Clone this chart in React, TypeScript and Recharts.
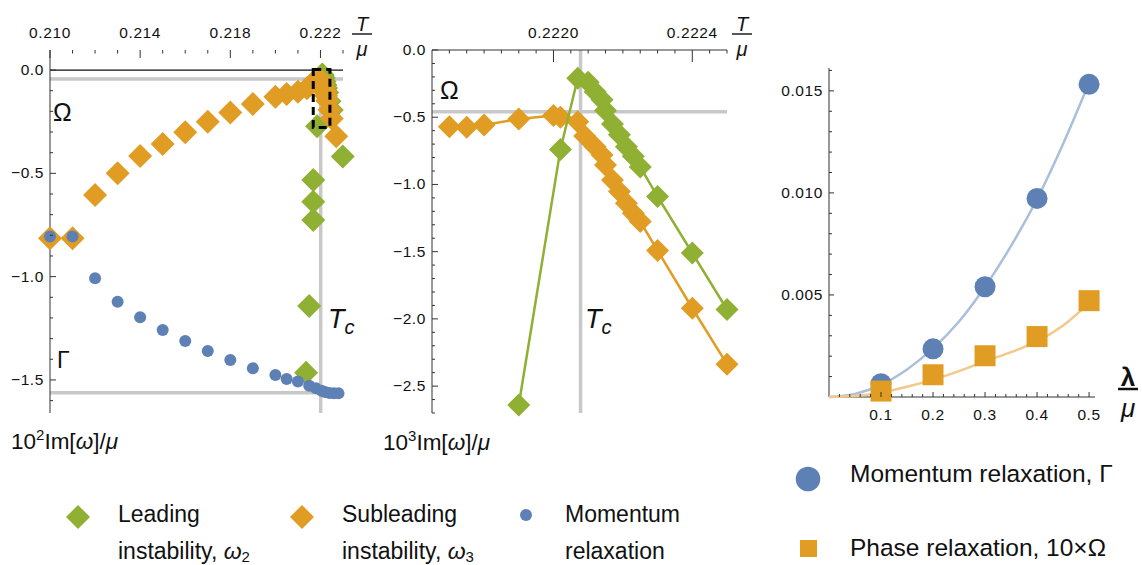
import React from "react";
import {
  ComposedChart,
  Scatter,
  XAxis,
  YAxis,
  ReferenceLine,
  ReferenceArea,
} from "recharts";

const GREEN = "#8fb032";
const ORANGE = "#e19c24";
const BLUE = "#5e81b5";
const BLUE_FIT = "#aabfdc";
const ORANGE_FIT = "#f2c98a";
const GRAY = "#c8c8c8";
const AXIS = "#333";
const FONT = "'Liberation Sans', Arial, Helvetica, sans-serif";

// left panel: T/mu vs 10^2 Im[w]/mu
const p1LeadT = [0.22136, 0.2215, 0.22168, 0.22168, 0.22168, 0.22185, 0.22202, 0.22208, 0.2221, 0.22214, 0.22218, 0.22222, 0.22225, 0.2223, 0.2224, 0.2225, 0.22299];
const p1LeadIm = [-1.465, -1.142, -0.726, -0.637, -0.532, -0.272, -0.074, -0.021, -0.025, -0.037, -0.055, -0.072, -0.087, -0.109, -0.151, -0.193, -0.419];
const p1SubT = [0.21, 0.211, 0.212, 0.213, 0.214, 0.215, 0.216, 0.217, 0.218, 0.219, 0.22, 0.2205, 0.221, 0.2214, 0.2217, 0.2218, 0.2219, 0.222, 0.22205, 0.2221, 0.22215, 0.2222, 0.22225, 0.2223, 0.2224, 0.2225, 0.2227];
const p1SubIm = [-0.814, -0.814, -0.605, -0.5, -0.416, -0.358, -0.301, -0.25, -0.205, -0.164, -0.129, -0.116, -0.105, -0.088, -0.057, -0.056, -0.051, -0.049, -0.052, -0.07, -0.085, -0.105, -0.125, -0.149, -0.192, -0.234, -0.32];
const p1MomT = [0.21, 0.211, 0.212, 0.213, 0.214, 0.215, 0.216, 0.217, 0.218, 0.219, 0.22, 0.2205, 0.221, 0.2215, 0.2218, 0.22205, 0.2222, 0.2224, 0.2226, 0.2228];
const p1MomIm = [-0.806, -0.806, -1.008, -1.121, -1.197, -1.258, -1.311, -1.36, -1.403, -1.443, -1.476, -1.495, -1.508, -1.528, -1.54, -1.552, -1.558, -1.563, -1.565, -1.565];

// middle panel: zoom near Tc, 10^3 Im[w]/mu
const p2LeadT = [0.2219, 0.22202, 0.22207, 0.2221, 0.22212, 0.22214, 0.22215, 0.22217, 0.22219, 0.22221, 0.22223, 0.22225, 0.2223, 0.2224, 0.2225];
const p2LeadIm = [-2.64, -0.74, -0.21, -0.24, -0.31, -0.37, -0.45, -0.55, -0.63, -0.72, -0.79, -0.87, -1.09, -1.51, -1.93];
const p2SubT = [0.2217, 0.22175, 0.2218, 0.2219, 0.222, 0.22202, 0.22207, 0.22209, 0.22212, 0.22214, 0.22215, 0.22217, 0.22219, 0.22221, 0.22223, 0.22225, 0.2223, 0.2224, 0.2225];
const p2SubIm = [-0.57, -0.575, -0.558, -0.513, -0.488, -0.501, -0.533, -0.639, -0.719, -0.781, -0.855, -0.967, -1.053, -1.14, -1.214, -1.276, -1.492, -1.921, -2.337];

// right panel: rates vs lambda/mu
const lambdas = [0.1, 0.2, 0.3, 0.4, 0.5];
const gammaVals = [0.00065, 0.00236, 0.0054, 0.00973, 0.01532];
const omegaVals = [0.00029, 0.00109, 0.00202, 0.00296, 0.00472];
const fitLambda = [0, 0.05, 0.1, 0.15, 0.2, 0.25, 0.3, 0.35, 0.4, 0.45, 0.5];
const gammaFit = [0, 0.00015, 0.0006, 0.00135, 0.00238, 0.0037, 0.0054, 0.0074, 0.0097, 0.0124, 0.0154];
const omegaFit = [0, 0.00005, 0.00022, 0.0005, 0.00085, 0.00127, 0.00175, 0.0022, 0.00272, 0.0035, 0.0046];

// tick labels
const p1XMajor = [0.21, 0.214, 0.218, 0.222];
const p1YMajor = [0, -0.5, -1, -1.5];
const p2XMajor = [0.222, 0.2224];
const p2YMajor = [0, -0.5, -1, -1.5, -2, -2.5];
const p3XMajor = [0.1, 0.2, 0.3, 0.4, 0.5];
const p3YMajor = [0.005, 0.01, 0.015];

const steps = (from: number, count: number, step: number) =>
  Array.from({ length: count }, (_, i) => +(from + i * step).toFixed(6));

const p1XTicks = steps(0.21, 14, 0.001);
const p1YTicks = steps(-1.6, 17, 0.1);
const p2XTicks = steps(0.2217, 17, 0.00005);
const p2YTicks = steps(-2.7, 28, 0.1);
const p3XTicks = steps(0.02, 25, 0.02);
const p3YTicks = steps(0.001, 16, 0.001);

const pts = (xs: number[], ys: number[]) => xs.map((x, i) => ({ x, y: ys[i] }));

const isIn = (v: number, list: number[]) => list.some((m) => Math.abs(m - v) < 1e-9);
const fmt = (v: number, d: number) => v.toFixed(d).replace("-", "\u2212");

const tickText = { fontSize: 15.5, fontFamily: FONT, fill: "#111", letterSpacing: 0.6 };

const leftTick = (axisX: number, majors: number[], digits: number, big = 6, small = 3) => (props: any) => {
  const v = props.payload.value;
  const y = props.y;
  const major = isIn(v, majors);
  return (
    <g>
      <line x1={axisX} x2={axisX + (major ? big : small)} y1={y} y2={y} stroke={AXIS} strokeWidth={1} />
      {major && (
        <text x={axisX - 6} y={y + 5} textAnchor="end" {...tickText}>
          {fmt(v, digits)}
        </text>
      )}
    </g>
  );
};

const topTick = (axisY: number, majors: number[], digits: number, big = 8, small = 3.5) => (props: any) => {
  const v = props.payload.value;
  const x = props.x;
  const major = isIn(v, majors);
  return (
    <g>
      <line x1={x} x2={x} y1={axisY} y2={axisY + (major ? big : small)} stroke={AXIS} strokeWidth={1} />
      {major && (
        <text x={x} y={axisY - 12} textAnchor="middle" {...tickText}>
          {fmt(v, digits)}
        </text>
      )}
    </g>
  );
};

const bottomTick = (axisY: number, majors: number[], digits: number, big = 5, small = 3) => (props: any) => {
  const v = props.payload.value;
  const x = props.x;
  const major = isIn(v, majors);
  return (
    <g>
      <line x1={x} x2={x} y1={axisY} y2={axisY - (major ? big : small)} stroke={AXIS} strokeWidth={1} />
      {major && (
        <text x={x} y={axisY + 23} textAnchor="middle" {...tickText}>
          {fmt(v, digits)}
        </text>
      )}
    </g>
  );
};

const diamond = (color: string, h: number) => (p: any) => (
  <polygon
    points={`${p.cx},${p.cy - h} ${p.cx + h},${p.cy} ${p.cx},${p.cy + h} ${p.cx - h},${p.cy}`}
    fill={color}
  />
);
const dot = (color: string, r: number) => (p: any) => <circle cx={p.cx} cy={p.cy} r={r} fill={color} />;
const square = (color: string, s: number) => (p: any) => (
  <rect x={p.cx - s / 2} y={p.cy - s / 2} width={s} height={s} fill={color} />
);
const nothing = () => <g />;

function Fraction({ x, top, bottom, y, size = 20, bold = false }: any) {
  return (
    <g fontFamily={FONT} fontSize={size} textAnchor="middle" fill="#111">
      <text x={x} y={y} fontStyle={bold ? "normal" : "italic"} fontWeight={bold ? "bold" : "normal"}>{top}</text>
      <line x1={x - 10} x2={x + 10} y1={y + 3} y2={y + 3} stroke="#111" strokeWidth={bold ? 2.5 : 1.4} />
      <text x={x} y={y + 25 + (bold ? 6 : 0)} fontStyle="italic">{bottom}</text>
    </g>
  );
}

function Tc({ x, y }: { x: number; y: number }) {
  return (
    <text x={x} y={y} fontFamily={FONT} fontSize={27} fontStyle="italic" fill="#111">
      T<tspan dy={6} fontSize={20}>c</tspan>
    </text>
  );
}

function ImLabel({ x, y, power }: { x: number; y: number; power: string }) {
  return (
    <text x={x} y={y} fontFamily={FONT} fontSize={22.5} fill="#111">
      10<tspan dy={-9} fontSize={15}>{power}</tspan>
      <tspan dy={9}>Im[</tspan>
      <tspan fontStyle="italic">ω</tspan>
      <tspan>]/</tspan>
      <tspan fontStyle="italic">μ</tspan>
    </text>
  );
}

function LegendEntry({ x, symbol, line1, line2, sub }: any) {
  return (
    <g fontFamily={FONT} fontSize={23} fill="#111">
      {symbol}
      <text x={x} y={522}>{line1}</text>
      <text x={x} y={559}>
        {line2}
        {sub && (
          <>
            <tspan fontStyle="italic">ω</tspan>
            <tspan dy={3} fontSize={15}>{sub}</tspan>
          </>
        )}
      </text>
    </g>
  );
}

export default function App() {
  return (
    <div style={{ position: "absolute", left: 0, top: 0, width: 1142, height: 565, background: "#fff", overflow: "hidden" }}>
      {/* left panel */}
      <div style={{ position: "absolute", left: 0, top: 0 }}>
        <ComposedChart width={380} height={420} margin={{ top: 0, right: 37, bottom: 7, left: 0 }}>
          <XAxis type="number" dataKey="x" orientation="top" height={50} domain={[0.21, 0.223]}
            ticks={p1XTicks} interval={0} tick={topTick(50, p1XMajor, 3)} tickLine={false} axisLine={false} />
          <YAxis type="number" dataKey="y" width={50} domain={[-1.66, 0.097]}
            ticks={p1YTicks} interval={0} tick={leftTick(50, p1YMajor, 1)} tickLine={false} axisLine={{ stroke: AXIS }} />
          <ReferenceLine y={0} stroke="#111" strokeWidth={1.2} />
          <ReferenceLine segment={[{ x: 0.21, y: -0.0436 }, { x: 0.223, y: -0.0436 }]} stroke={GRAY} strokeWidth={3.5} />
          <ReferenceLine segment={[{ x: 0.21, y: -1.562 }, { x: 0.22201, y: -1.562 }]} stroke={GRAY} strokeWidth={3.5} />
          <ReferenceLine segment={[{ x: 0.22201, y: 0.012 }, { x: 0.22201, y: -1.66 }]} stroke={GRAY} strokeWidth={3.5} />
          <Scatter data={pts(p1LeadT, p1LeadIm)} shape={diamond(GREEN, 12)} isAnimationActive={false} />
          <Scatter data={pts(p1SubT, p1SubIm)} shape={diamond(ORANGE, 12)} isAnimationActive={false} />
          <Scatter data={pts(p1MomT, p1MomIm)} shape={dot(BLUE, 6)} isAnimationActive={false} />
          <ReferenceArea x1={0.22168} x2={0.22242} y1={-0.278} y2={0.003} fill="none" fillOpacity={0}
            stroke="#000" strokeWidth={3} strokeDasharray="8 5" zIndex={1500} />
        </ComposedChart>
      </div>

      {/* middle panel */}
      <div style={{ position: "absolute", left: 380, top: 0 }}>
        <ComposedChart width={380} height={420} margin={{ top: 0, right: 33, bottom: 7, left: 0 }}>
          <XAxis type="number" dataKey="x" orientation="top" height={50} domain={[0.22165, 0.2225]}
            ticks={p2XTicks} interval={0} tick={topTick(50, p2XMajor, 4, 12, 3.5)} tickLine={false} axisLine={{ stroke: AXIS }} />
          <YAxis type="number" dataKey="y" width={52} domain={[-2.7, 0]}
            ticks={p2YTicks} interval={0} tick={leftTick(52, p2YMajor, 1)} tickLine={false} axisLine={{ stroke: AXIS }} />
          <ReferenceLine segment={[{ x: 0.22165, y: -0.46 }, { x: 0.2225, y: -0.46 }]} stroke={GRAY} strokeWidth={3.5} />
          <ReferenceLine segment={[{ x: 0.222078, y: 0 }, { x: 0.222078, y: -2.7 }]} stroke={GRAY} strokeWidth={3.5} />
          <Scatter data={pts(p2SubT, p2SubIm)} shape={diamond(ORANGE, 11.5)} line={{ stroke: ORANGE, strokeWidth: 2.5 }} isAnimationActive={false} />
          <Scatter data={pts(p2LeadT, p2LeadIm)} shape={diamond(GREEN, 11.5)} line={{ stroke: GREEN, strokeWidth: 2.5 }} isAnimationActive={false} />
        </ComposedChart>
      </div>

      {/* right panel */}
      <div style={{ position: "absolute", left: 760, top: 0 }}>
        <ComposedChart width={382} height={440} margin={{ top: 68, right: 47, bottom: 0, left: 0 }}>
          <XAxis type="number" dataKey="x" height={43} domain={[0, 0.5114]}
            ticks={p3XTicks} interval={0} tick={bottomTick(397, p3XMajor, 1)} tickLine={false} axisLine={{ stroke: AXIS }} />
          <YAxis type="number" dataKey="y" width={69} domain={[0, 0.01612]}
            ticks={p3YTicks} interval={0} tick={leftTick(69, p3YMajor, 3, 5, 3)} tickLine={false} axisLine={{ stroke: AXIS }} />
          <Scatter data={pts(fitLambda, gammaFit)} shape={nothing} line={{ stroke: BLUE_FIT, strokeWidth: 2.5 }} lineJointType="monotoneX" isAnimationActive={false} />
          <Scatter data={pts(fitLambda, omegaFit)} shape={nothing} line={{ stroke: ORANGE_FIT, strokeWidth: 2.5 }} lineJointType="monotoneX" isAnimationActive={false} />
          <Scatter data={pts(lambdas, gammaVals)} shape={dot(BLUE, 10.5)} isAnimationActive={false} />
          <Scatter data={pts(lambdas, omegaVals)} shape={square(ORANGE, 21)} isAnimationActive={false} />
        </ComposedChart>
      </div>

      {/* annotations */}
      <svg width={1142} height={565} style={{ position: "absolute", left: 0, top: 0, pointerEvents: "none" }}>
        <Fraction x={362} y={31} top="T" bottom="μ" />
        <Fraction x={742} y={31} top="T" bottom="μ" />
        <Fraction x={1128} y={386} top="λ" bottom="μ" size={26} bold />

        <text x={53} y={121} fontFamily={FONT} fontSize={25} fill="#111">Ω</text>
        <text x={57} y={368} fontFamily={FONT} fontSize={23} fill="#111">Γ</text>
        <text x={440} y={99} fontFamily={FONT} fontSize={25} fill="#111">Ω</text>
        <Tc x={328} y={328} />
        <Tc x={585} y={328} />

        <ImLabel x={11} y={449} power="2" />
        <ImLabel x={383} y={450} power="3" />

        <LegendEntry x={118} line1="Leading" line2="instability, " sub="2"
          symbol={<polygon points="78,505 90,517 78,529 66,517" fill={GREEN} />} />
        <LegendEntry x={342} line1="Subleading" line2="instability, " sub="3"
          symbol={<polygon points="302,505 314,517 302,529 290,517" fill={ORANGE} />} />
        <LegendEntry x={565} line1="Momentum" line2="relaxation"
          symbol={<circle cx={526} cy={515} r={6} fill={BLUE} />} />

        <g fontFamily={FONT} fontSize={24.5} fill="#111">
          <circle cx={808} cy={479} r={12.3} fill={BLUE} />
          <text x={850} y={482}>Momentum relaxation, Γ</text>
          <rect x={800} y={540} width={17} height={17} fill={ORANGE} />
          <text x={850} y={556}>Phase relaxation, 10×Ω</text>
        </g>
      </svg>
    </div>
  );
}
